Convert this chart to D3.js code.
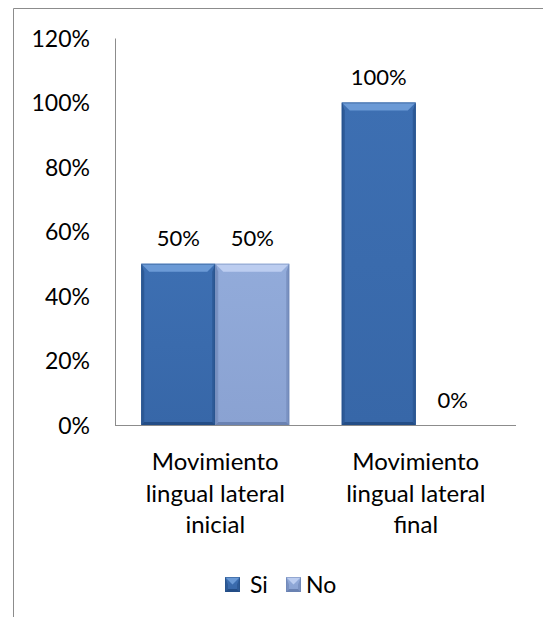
<!DOCTYPE html>
<html><head><meta charset="utf-8">
<script src="https://cdn.jsdelivr.net/npm/d3@7"></script>
<style>body{margin:0;background:#fff}svg{display:block}text{font-family:Lato,"Open Sans",sans-serif;fill:#000}</style>
</head><body>
<svg id="c" width="543" height="617"></svg>
<script>
const categories = [["Movimiento","lingual lateral","inicial"],["Movimiento","lingual lateral","final"]];
const seriesNames = ["Si","No"];
const siValues = [0.5, 1.0];
const noValues = [0.5, 0.0];
const yTicks = [0,0.2,0.4,0.6,0.8,1.0,1.2];

(function(){
const svg = d3.select("#c");
const W=543,H=617;
const pL=115, pR=516, pT=38, pB=425;
svg.append("path").attr("d",`M13.5,${H} V8.5 H${W}`).attr("fill","none").attr("stroke","#8c8c8c").attr("stroke-width",1);

const catIdx=categories.map((d,i)=>i);
const x0=d3.scaleBand().domain(catIdx).range([pL,pR]).padding(0);
const x1=d3.scaleBand().domain(seriesNames).range([0,x0.bandwidth()]).paddingInner(0).paddingOuter(0.355);
const y=d3.scaleLinear().domain([0,1.2]).range([pB,pT]);

const defs=svg.append("defs");
const pal={Si:{main:"#3767a8",mainTop:"#3d6fb2",top:"#6b9ad6",side:"#2d5a97",bot:"#234d86"},
           No:{main:"#8aa2d2",mainTop:"#92abda",top:"#bccdf0",side:"#7a92c2",bot:"#6a82b2"}};
seriesNames.forEach(s=>{
  const g=defs.append("linearGradient").attr("id","g"+s).attr("x1",0).attr("y1",0).attr("x2",0).attr("y2",1);
  g.append("stop").attr("offset","0%").attr("stop-color",pal[s].mainTop);
  g.append("stop").attr("offset","100%").attr("stop-color",pal[s].main);
});

const yAxis=d3.axisLeft(y).tickValues(yTicks).tickSize(0).tickPadding(0).tickFormat(d=>Math.round(d*100)+"%");
const ga=svg.append("g").attr("transform",`translate(${pL},0)`).call(yAxis);
ga.select(".domain").attr("stroke","#8c8c8c");
ga.selectAll("text").attr("x",-25).attr("dy","0.35em").style("font-size","23px").attr("font-family",null).attr("fill","#000");

function bevelBar(g,x,yTop,w,h,s){
  if(h<=0) return;
  const b=Math.min(8,h/2), e=3;
  const p=pal[s];
  g.append("rect").attr("x",x).attr("y",yTop).attr("width",w).attr("height",h).attr("fill",`url(#g${s})`);
  g.append("polygon").attr("points",`${x},${yTop} ${x+e},${yTop+b} ${x+e},${yTop+h-e} ${x},${yTop+h}`).attr("fill",p.side);
  g.append("polygon").attr("points",`${x+w},${yTop} ${x+w-e},${yTop+b} ${x+w-e},${yTop+h-e} ${x+w},${yTop+h}`).attr("fill",p.side);
  g.append("polygon").attr("points",`${x},${yTop+h} ${x+e},${yTop+h-e} ${x+w-e},${yTop+h-e} ${x+w},${yTop+h}`).attr("fill",p.bot);
  g.append("polygon").attr("points",`${x},${yTop} ${x+w},${yTop} ${x+w-b},${yTop+b} ${x+b},${yTop+b}`).attr("fill",p.top);
  g.append("rect").attr("x",x+0.5).attr("y",yTop+0.5).attr("width",w-1).attr("height",h-1).attr("fill","none").attr("stroke",p.bot).attr("stroke-opacity",0.5);
}

const barsG=svg.append("g");
const vals={Si:siValues,No:noValues};
catIdx.forEach(i=>{
  seriesNames.forEach(s=>{
    const v=vals[s][i];
    const bx=x0(i)+x1(s), bw=x1.bandwidth();
    bevelBar(barsG,bx,y(v),bw,y(0)-y(v),s);
    svg.append("text").attr("x",bx+bw/2).attr("y",y(v)-25).attr("dy","0.35em").attr("text-anchor","middle").style("font-size","22px").text(Math.round(v*100)+"%");
  });
});

svg.append("line").attr("x1",pL).attr("x2",pR).attr("y1",pB+0.5).attr("y2",pB+0.5).attr("stroke","#8c8c8c");

catIdx.forEach(i=>{
  const t=svg.append("text").attr("text-anchor","middle").style("font-size","24px");
  categories[i].forEach((ln,k)=>{
    t.append("tspan").attr("x",x0(i)+x0.bandwidth()/2).attr("y",470+k*31.5).text(ln);
  });
});

const legend=[{s:"Si",x:225,tx:250},{s:"No",x:286,tx:306}];
legend.forEach(l=>{
  const g=svg.append("g");
  bevelBar(g,l.x,577,15,15,l.s);
  svg.append("text").attr("x",l.tx).attr("y",585).attr("dy","0.35em").style("font-size","23px").text(l.s);
});
})();
</script>
</body></html>
